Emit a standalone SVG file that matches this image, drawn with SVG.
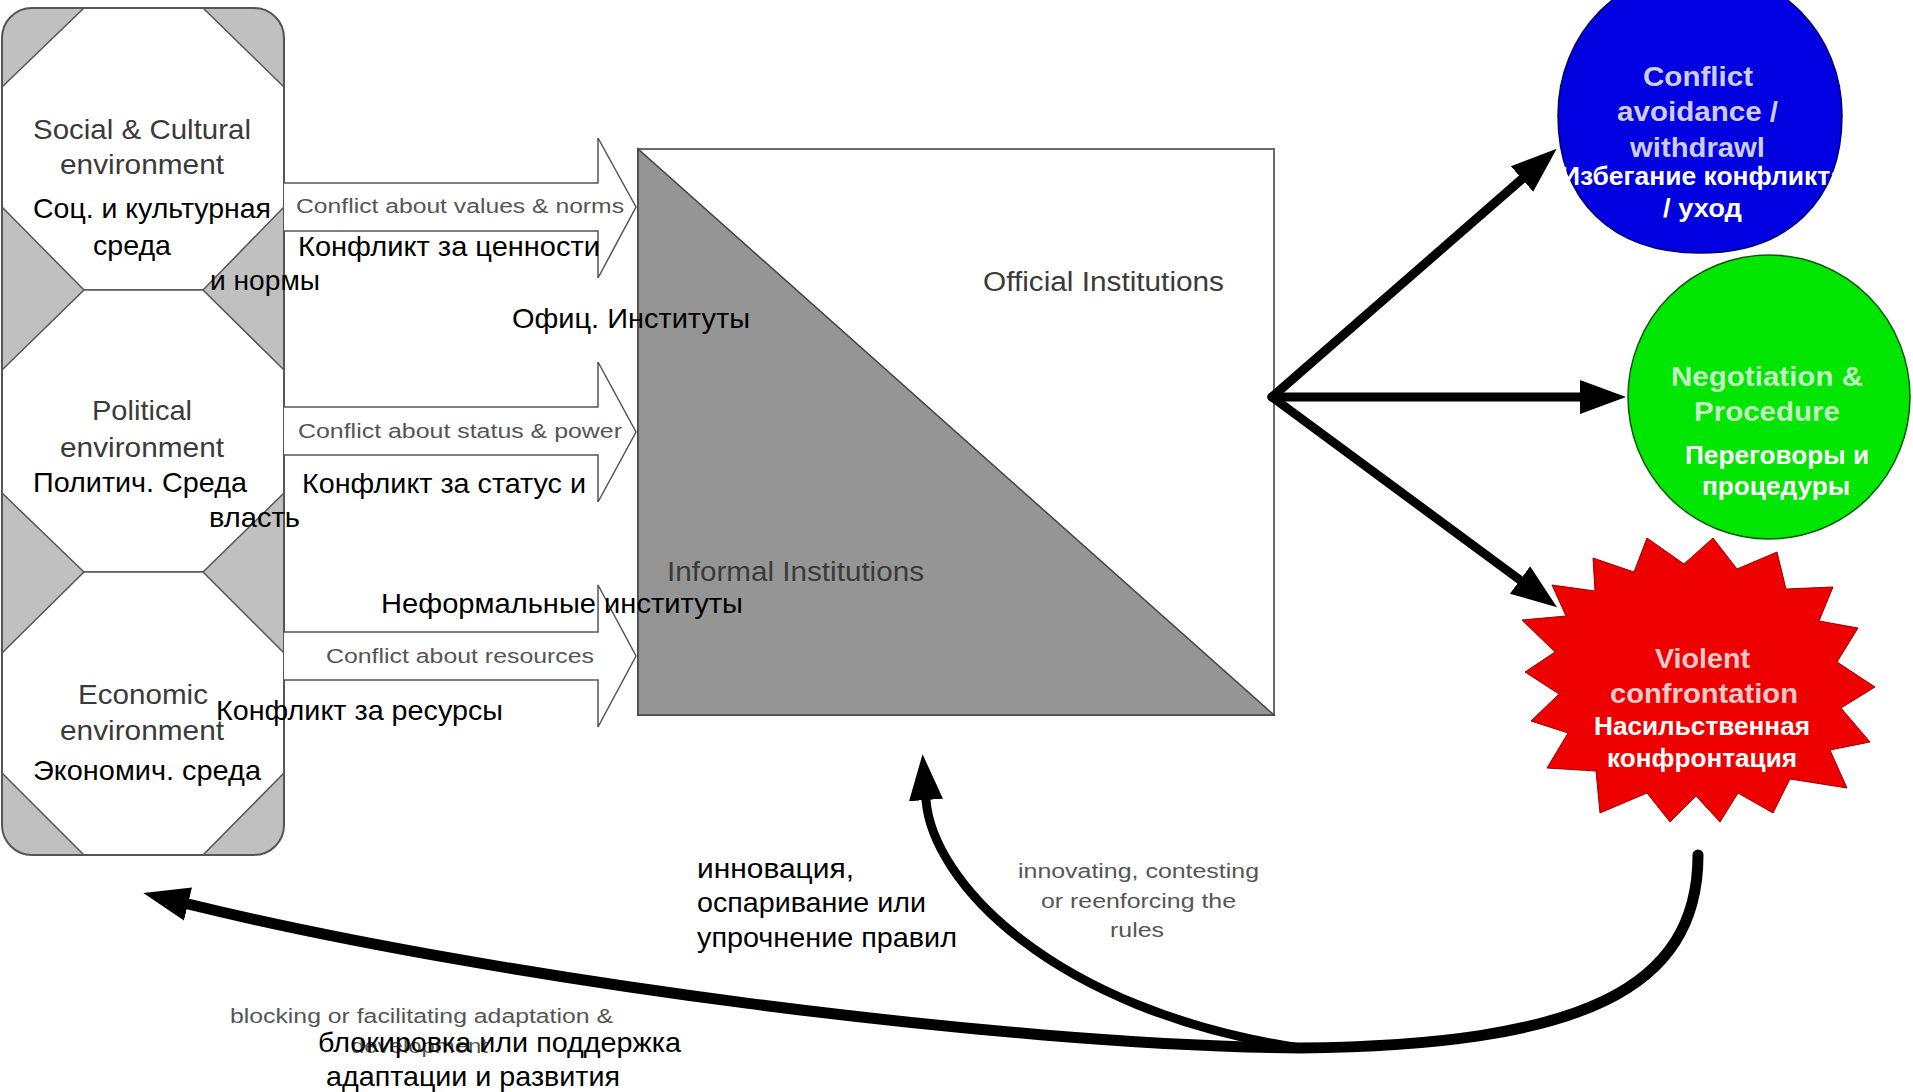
<svg xmlns="http://www.w3.org/2000/svg" width="1913" height="1092" viewBox="0 0 1913 1092">
<style>
text { font-family: "Liberation Sans", Arial, sans-serif; }
.penv { font-size: 28px; fill: #3a3a3a; }
.ru { font-size: 28px; fill: #000; }
.lbl { font-size: 20px; fill: #555; }
.box { font-size: 27px; fill: #3a3a3a; }
.b { font-weight: bold; }
.wt { font-size: 26px; fill: #fff; font-weight: bold; }
.oct { fill: #fff; stroke: #555; stroke-width: 1.5; }
.blk { fill: #fff; stroke: #555; stroke-width: 1.5; }
.thick { fill: none; stroke: #000; stroke-linecap: round; }
</style>
<defs>
<marker id="ah" markerUnits="userSpaceOnUse" markerWidth="50" markerHeight="40" refX="0" refY="17" orient="auto" viewBox="0 0 50 34">
<path d="M0,0 L46,17 L0,34 Z" fill="#000"/>
</marker>
</defs>
<rect width="1913" height="1092" fill="#fff"/>

<g id="environments">
<rect x="2" y="8" width="282" height="847" rx="30" fill="#c0c0c0"/>
<g id="env-social">
<polygon class="oct" points="84,8 203,8 284,87 284,207 203,290 84,290 2,207 2,87"/>
<text class="penv" x="33" y="139" textLength="218" lengthAdjust="spacingAndGlyphs">Social &amp; Cultural</text>
<text class="penv" x="60" y="174" textLength="164" lengthAdjust="spacingAndGlyphs">environment</text>
</g>
<g id="env-political">
<polygon class="oct" points="84,290 203,290 284,370 284,493 203,572 84,572 2,493 2,370"/>
<text class="penv" x="92" y="420" textLength="100" lengthAdjust="spacingAndGlyphs">Political</text>
<text class="penv" x="60" y="457" textLength="164" lengthAdjust="spacingAndGlyphs">environment</text>
</g>
<g id="env-economic">
<polygon class="oct" points="84,572 203,572 284,653 284,773 203,855 84,855 2,773 2,653"/>
<text class="penv" x="78" y="704" textLength="130" lengthAdjust="spacingAndGlyphs">Economic</text>
<text class="penv" x="60" y="740" textLength="164" lengthAdjust="spacingAndGlyphs">environment</text>
</g>
<rect x="2" y="8" width="282" height="847" rx="30" fill="none" stroke="#555" stroke-width="2"/>
</g>

<g id="institutions">
<rect x="638" y="149" width="636" height="566" fill="#fff" stroke="#6a6a6a" stroke-width="2"/>
<polygon points="638,149 638,715 1274,715" fill="#959595" stroke="#444" stroke-width="1.5"/>
<text class="box" x="983" y="291" textLength="241" lengthAdjust="spacingAndGlyphs">Official Institutions</text>
<text class="box" x="667" y="581" textLength="257" lengthAdjust="spacingAndGlyphs">Informal Institutions</text>
</g>

<g id="outcome-avoidance">
<path d="M1558,115 C1558,201 1612,253 1700,253 C1788,253 1842,201 1842,115 C1842,34 1780,-30 1700,-30 C1620,-30 1558,34 1558,115 Z" fill="#0000e0" stroke="#000070" stroke-width="1.5"/>
<text class="b" font-size="28" fill="#cdcdf0" x="1643" y="86" textLength="110" lengthAdjust="spacingAndGlyphs">Conflict</text>
<text class="b" font-size="28" fill="#cdcdf0" x="1617" y="121" textLength="161" lengthAdjust="spacingAndGlyphs">avoidance /</text>
<text class="b" font-size="28" fill="#cdcdf0" x="1630" y="157" textLength="135" lengthAdjust="spacingAndGlyphs">withdrawl</text>
<text class="wt" x="1561" y="185" textLength="284" lengthAdjust="spacingAndGlyphs">Избегание конфликта</text>
<text class="wt" x="1663" y="217" textLength="79" lengthAdjust="spacingAndGlyphs">/ уход</text>
</g>

<g id="outcome-negotiation">
<ellipse cx="1769" cy="397" rx="141" ry="142" fill="#00e600" stroke="#0a5a0a" stroke-width="1.5"/>
<text class="b" font-size="28" fill="#c4f0c4" x="1671" y="386" textLength="192" lengthAdjust="spacingAndGlyphs">Negotiation &amp;</text>
<text class="b" font-size="28" fill="#c4f0c4" x="1694" y="421" textLength="146" lengthAdjust="spacingAndGlyphs">Procedure</text>
<text class="wt" x="1685" y="464" textLength="184" lengthAdjust="spacingAndGlyphs">Переговоры и</text>
<text class="wt" x="1702" y="495" textLength="148" lengthAdjust="spacingAndGlyphs">процедуры</text>
</g>

<g id="outcome-violence">
<polygon points="1647,538 1684,564 1713,538 1737,569 1777,552 1786,589 1833,587 1819,621 1858,628 1837,662 1875,687 1841,708 1870,742 1830,750 1847,788 1790,779 1773,813 1738,793 1720,822 1696,796 1670,822 1647,793 1600,813 1596,771 1547,768 1568,733 1531,721 1559,694 1525,672 1555,652 1522,620 1566,616 1552,585 1595,591 1593,558 1634,572" fill="#ee0000" stroke="#900" stroke-width="1"/>
<text class="b" font-size="28" fill="#f6caca" x="1655" y="668" textLength="95" lengthAdjust="spacingAndGlyphs">Violent</text>
<text class="b" font-size="28" fill="#f6caca" x="1610" y="703" textLength="188" lengthAdjust="spacingAndGlyphs">confrontation</text>
<text class="wt" x="1594" y="735" textLength="216" lengthAdjust="spacingAndGlyphs">Насильственная</text>
<text class="wt" x="1607" y="767" textLength="190" lengthAdjust="spacingAndGlyphs">конфронтация</text>
</g>

<g id="connectors">
<path class="blk" d="M284,183 H598 V138 L636,207 L598,278 V231 H284"/>
<path class="blk" d="M284,407 H598 V362 L636,432 L598,502 V455 H284"/>
<path class="blk" d="M284,632 H598 V585 L636,656 L598,727 V680 H284"/>
<text class="lbl" x="296" y="213" textLength="328" lengthAdjust="spacingAndGlyphs">Conflict about values &amp; norms</text>
<text class="lbl" x="298" y="438" textLength="324" lengthAdjust="spacingAndGlyphs">Conflict about status &amp; power</text>
<text class="lbl" x="326" y="663" textLength="268" lengthAdjust="spacingAndGlyphs">Conflict about resources</text>

<path class="thick" stroke-width="9" d="M1272,397 L1522,179" marker-end="url(#ah)"/>
<path class="thick" stroke-width="9" d="M1272,397 L1580,397" marker-end="url(#ah)"/>
<path class="thick" stroke-width="9" d="M1272,397 L1520,580" marker-end="url(#ah)"/>

<path class="thick" stroke-width="11" d="M1698,855 C1698,990 1580,1045 1300,1048 C1000,1045 500,980 188,904" marker-end="url(#ah)"/>
<path class="thick" stroke-width="9" d="M1300,1048 C1050,1010 932,880 926,800" marker-end="url(#ah)"/>

<text class="lbl" font-size="21" x="1018" y="878" textLength="241" lengthAdjust="spacingAndGlyphs">innovating, contesting</text>
<text class="lbl" font-size="21" x="1041" y="908" textLength="195" lengthAdjust="spacingAndGlyphs">or reenforcing the</text>
<text class="lbl" font-size="21" x="1110" y="937" textLength="54" lengthAdjust="spacingAndGlyphs">rules</text>
<text class="lbl" font-size="21" x="230" y="1023" textLength="383" lengthAdjust="spacingAndGlyphs">blocking or facilitating adaptation &amp;</text>
<text class="lbl" font-size="21" x="351" y="1053" textLength="137" lengthAdjust="spacingAndGlyphs">development</text>
</g>

<g id="russian-labels">
<text class="ru" x="33" y="218" textLength="238" lengthAdjust="spacingAndGlyphs">Соц. и культурная</text>
<text class="ru" x="93" y="255" textLength="78" lengthAdjust="spacingAndGlyphs">среда</text>
<text class="ru" x="210" y="290" textLength="110" lengthAdjust="spacingAndGlyphs">и нормы</text>
<text class="ru" x="33" y="492" textLength="214" lengthAdjust="spacingAndGlyphs">Политич. Среда</text>
<text class="ru" x="209" y="527" textLength="91" lengthAdjust="spacingAndGlyphs">власть</text>
<text class="ru" x="33" y="780" textLength="228" lengthAdjust="spacingAndGlyphs">Экономич. среда</text>
<text class="ru" x="298" y="256" textLength="302" lengthAdjust="spacingAndGlyphs">Конфликт за ценности</text>
<text class="ru" x="302" y="493" textLength="284" lengthAdjust="spacingAndGlyphs">Конфликт за статус и</text>
<text class="ru" x="216" y="720" textLength="287" lengthAdjust="spacingAndGlyphs">Конфликт за ресурсы</text>
<text class="ru" x="381" y="613" textLength="362" lengthAdjust="spacingAndGlyphs">Неформальные институты</text>
<text class="ru" x="512" y="328" textLength="238" lengthAdjust="spacingAndGlyphs">Офиц. Институты</text>
<text class="ru" x="697" y="878" textLength="157" lengthAdjust="spacingAndGlyphs">инновация,</text>
<text class="ru" x="697" y="912" textLength="229" lengthAdjust="spacingAndGlyphs">оспаривание или</text>
<text class="ru" x="697" y="947" textLength="260" lengthAdjust="spacingAndGlyphs">упрочнение правил</text>
<text class="ru" x="318" y="1052" textLength="363" lengthAdjust="spacingAndGlyphs">блокировка или поддержка</text>
<text class="ru" x="326" y="1086" textLength="294" lengthAdjust="spacingAndGlyphs">адаптации и развития</text>
</g>
</svg>
